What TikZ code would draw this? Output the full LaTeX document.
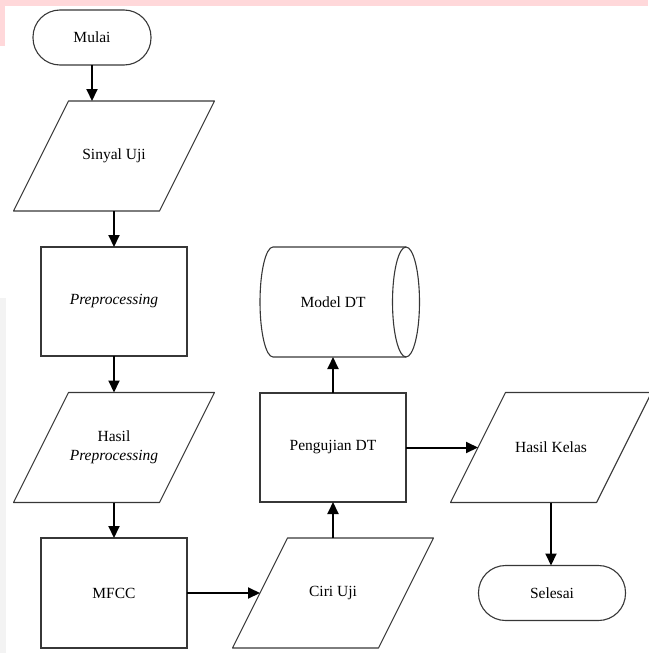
\documentclass[tikz,border=0pt]{standalone}
\usepackage{fontspec}
\setmainfont{Liberation Serif}
\usetikzlibrary{arrows.meta}
\definecolor{bandpink}{RGB}{255,216,218}
\definecolor{edgegrey}{RGB}{243,243,243}
\definecolor{shapeline}{RGB}{55,55,55}
\begin{document}
\begin{tikzpicture}[x=1pt,y=-1pt,
  every node/.style={font=\fontsize{15.5}{19}\selectfont, inner sep=0pt, outer sep=0pt, align=center},
  box/.style={draw=shapeline, line width=1.1pt, minimum width=146pt, minimum height=110pt},
  term/.style={draw=shapeline, line width=1.1pt, rounded corners=27pt, minimum height=55pt},
  slot/.style={minimum width=146pt, minimum height=110pt},
  outline/.style={draw=shapeline, line width=1.1pt, line join=round},
  flow/.style={draw=black, line width=2pt, -{Triangle[length=12pt,width=11pt]}}]
\useasboundingbox (0,0) rectangle (648,653);
\fill[bandpink] (0,0) rectangle (648,6);
\fill[bandpink] (0,0) rectangle (5,46);
\fill[edgegrey] (0,298) rectangle (6,653);

\node[term, minimum width=118pt] (mulai) at (92,37.5) {Mulai};
\node[slot] (sinyal) at (114,156) {Sinyal Uji};
\node[box, minimum height=109pt] (prep) at (114,301.5) {\itshape Preprocessing};
\node[slot] (hasilprep) at (114,447.5) {Hasil\\\itshape Preprocessing};
\node[box] (mfcc) at (114,593) {MFCC};
\node[slot] (ciri) at (333,593) {Ciri Uji};
\node[box, minimum height=109pt] (uji) at (333,447.5) {Pengujian DT};
\node[slot, minimum width=133pt] (model) at (339.5,302) {};
\node at (333,302) {Model DT};
\node[slot] (hasilk) at (551,447.5) {Hasil Kelas};
\node[term, minimum width=147pt] (selesai) at (552,593) {Selesai};

\foreach \n in {sinyal,hasilprep,ciri,hasilk}
  \draw[outline] ([xshift=27.5pt]\n.north west) -- ([xshift=27.5pt]\n.north east)
    -- ([xshift=-27.5pt]\n.south east) -- ([xshift=-27.5pt]\n.south west) -- cycle;

\draw[outline] (model.north east) -- (model.north west)
  arc[start angle=90, end angle=270, x radius=13pt, y radius=55pt] -- (model.south east);
\draw[outline] (model.east) ellipse[x radius=13.5pt, y radius=55pt];

\draw[flow] (mulai.south) -- (mulai.south |- sinyal.north);
\draw[flow] (sinyal.south) -- (prep.north);
\draw[flow] (prep.south) -- (hasilprep.north);
\draw[flow] (hasilprep.south) -- (mfcc.north);
\draw[flow] (mfcc.east) -- (ciri.west);
\draw[flow] (ciri.north) -- (uji.south);
\draw[flow] (uji.north) -- (uji.north |- model.south);
\draw[flow] (uji.east) -- (hasilk.west);
\draw[flow] (hasilk.south) -- (hasilk.south |- selesai.north);
\end{tikzpicture}
\end{document}
